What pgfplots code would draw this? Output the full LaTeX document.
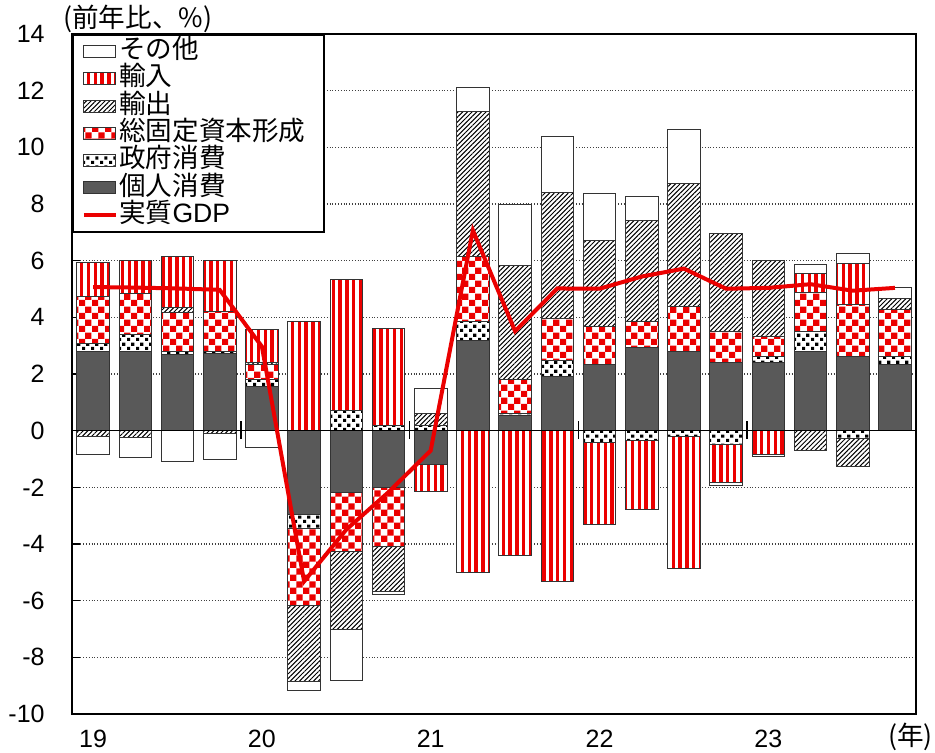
\documentclass[border=0pt]{standalone}
\usepackage{fontspec}
\setmainfont{Liberation Sans}
\newfontfamily\cjk{Noto Sans CJK JP}
\newfontfamily\lib{Liberation Sans}
\usepackage{pgfplots}
\usepackage{pgfplotstable}
\pgfplotsset{compat=1.18}
\usetikzlibrary{patterns,patterns.meta}
\definecolor{myred}{RGB}{235,0,0}
\definecolor{mygray}{RGB}{89,89,89}
\pgfdeclarepatternformonly{bigchecker}{\pgfqpoint{0pt}{0pt}}{\pgfqpoint{6.6pt}{6.6pt}}{\pgfqpoint{6.6pt}{6.6pt}}{%
  \pgfpathrectangle{\pgfqpoint{0pt}{0pt}}{\pgfqpoint{3.3pt}{3.3pt}}%
  \pgfpathrectangle{\pgfqpoint{3.3pt}{3.3pt}}{\pgfqpoint{3.3pt}{3.3pt}}%
  \pgfusepath{fill}}
\pgfdeclarepatternformonly{sqdots}{\pgfqpoint{0pt}{0pt}}{\pgfqpoint{4.6pt}{4.6pt}}{\pgfqpoint{4.6pt}{4.6pt}}{%
  \pgfpathrectangle{\pgfqpoint{0pt}{0pt}}{\pgfqpoint{1.7pt}{1.7pt}}%
  \pgfpathrectangle{\pgfqpoint{2.3pt}{2.3pt}}{\pgfqpoint{1.7pt}{1.7pt}}%
  \pgfusepath{fill}}
\pgfplotsset{
  pgray/.style={fill=mygray, draw=black!80, line width=0.5pt},
  pdots/.style={preaction={fill=white}, pattern=sqdots, pattern color=black, draw=black!80, line width=0.5pt},
  pcheck/.style={preaction={fill=white}, pattern=bigchecker, pattern color=myred, draw=black!80, line width=0.5pt},
  phatch/.style={preaction={fill=white}, pattern={Lines[angle=45,distance=1.65pt,line width=0.5pt]}, pattern color=black, draw=black!80, line width=0.5pt},
  pstripe/.style={preaction={fill=white}, pattern={Lines[angle=90,distance=3.4pt,line width=1.7pt]}, pattern color=myred, draw=black!80, line width=0.5pt},
  pother/.style={fill=white, draw=black!80, line width=0.5pt},
  linelegend/.style={legend image code/.code={\draw[##1] (0pt,0pt) -- (16pt,0pt);}},
  boxlegend/.style={legend image code/.code={\draw[##1] (0pt,-3pt) rectangle (16pt,3pt);}},
  base/.style={width=422pt, height=340pt, scale only axis, at={(0pt,0pt)}, anchor=south west,
    xmin=-0.5, xmax=19.5, ymin=-10, ymax=14, axis line style={line width=1pt}},
}
% positive parts: x, personal cons., gov cons., GFCF, exports, imports, other
\pgfplotstableread{
x g d c h s o
0 2.78 0.28 1.66 0 1.21 0
1 2.78 0.61 1.45 0 1.18 0
2 2.70 0.08 1.39 0.17 1.81 0
3 2.71 0.07 1.41 0 1.80 0
4 1.56 0.24 0.54 0.08 1.16 0
5 0 0 0 0 3.87 0
6 0 0.72 0 0 4.62 0
7 0 0.20 0 0 3.42 0
8 0 0.19 0 0.41 0 0.90
9 3.19 0.65 2.29 5.14 0 0.83
10 0.55 0.05 1.20 4.04 0 2.15
11 1.92 0.55 1.48 4.45 0 1.99
12 2.35 0 1.34 3.01 0 1.66
13 2.93 0 0.94 3.55 0 0.86
14 2.81 0 1.59 4.32 0 1.90
15 2.39 0 1.11 3.45 0 0
16 2.42 0.20 0.69 2.68 0 0
17 2.78 0.73 1.38 0 0.64 0.34
18 2.62 0 1.83 0 1.44 0.35
19 2.34 0.28 1.65 0.41 0 0.36
}\pos
% negative parts
\pgfplotstableread{
x g d c h s o
0 0 0 0 -0.20 0 -0.65
1 0 0 0 -0.24 0 -0.71
2 0 0 0 0 0 -1.10
3 0 0 0 -0.10 0 -0.91
4 0 0 0 0 0 -0.58
5 -2.97 -0.49 -2.72 -2.68 0 -0.32
6 -2.17 0 -2.11 -2.73 0 -1.80
7 -1.99 0 -2.09 -1.58 0 -0.12
8 -1.20 0 0 0 -0.95 0
9 0 0 0 0 -5.01 0
10 0 0 0 0 -4.42 0
11 0 0 0 0 -5.34 0
12 0 -0.40 0 0 -2.92 0
13 0 -0.34 0 0 -2.45 0
14 0 -0.19 0 0 -4.68 0
15 0 -0.49 0 0 -1.35 -0.08
16 0 0 0 0 -0.84 -0.08
17 0 0 0 -0.69 0 0
18 0 -0.28 0 -1.00 0 0
19 0 0 0 0 0 0
}\neg
\pgfplotstableread{
x gdp
0 5.07
1 5.05
2 5.02
3 4.97
4 2.97
5 -5.32
6 -3.49
7 -2.17
8 -0.70
9 7.07
10 3.51
11 5.02
12 5.01
13 5.44
14 5.72
15 5.01
16 5.04
17 5.17
18 4.94
19 5.04
}\gdp
\begin{document}
\begin{tikzpicture}
\path[use as bounding box] (-36pt,-19pt) rectangle (431.5pt,357pt);
% axis A: grid, tick labels, negative stacks
\begin{axis}[base, ybar stacked, bar width=16.3pt,
  ymajorgrids, grid style={densely dotted, black!75, line width=0.6pt},
  ytick={-10,-8,...,14}, yticklabels={-10,-8,-6,-4,-2,0,2,4,6,8,10,12,14},
  ytick pos=left, tick align=inside, major tick length=4pt,
  ytick style={line width=0.6pt, black},
  xtick={0,4,8,12,16}, xticklabels={19,20,21,22,23},
  xtick style={draw=none},
  ticklabel style={font=\fontsize{12.5}{14}\selectfont},
  yticklabel style={anchor=east, inner sep=0pt, xshift=-13.5pt},
  xticklabel style={anchor=north, inner sep=0pt, yshift=-8pt},
]
\addplot[pgray] table[x=x,y=g]{\neg};
\addplot[pdots] table[x=x,y=d]{\neg};
\addplot[pcheck] table[x=x,y=c]{\neg};
\addplot[phatch] table[x=x,y=h]{\neg};
\addplot[pstripe] table[x=x,y=s]{\neg};
\addplot[pother] table[x=x,y=o]{\neg};
\end{axis}
% axis B: positive stacks
\begin{axis}[base, ybar stacked, bar width=16.3pt, hide axis]
\addplot[pgray] table[x=x,y=g]{\pos};
\addplot[pdots] table[x=x,y=d]{\pos};
\addplot[pcheck] table[x=x,y=c]{\pos};
\addplot[phatch] table[x=x,y=h]{\pos};
\addplot[pstripe] table[x=x,y=s]{\pos};
\addplot[pother] table[x=x,y=o]{\pos};
\end{axis}
% axis C: line, legend, frame
\begin{axis}[base, xtick=\empty, ytick=\empty, clip=false,
  legend style={at={(0,1)}, anchor=north west, draw=black, line width=0.8pt, fill=white,
    font=\cjk\fontsize{13.3}{14}\selectfont, inner xsep=4.5pt, inner ysep=1.5pt, row sep=0pt,
    nodes={inner sep=0.75pt, text height=9.6pt, text depth=2.55pt}},
  legend cell align=left,
]
\addlegendimage{boxlegend, pother}
\addlegendimage{boxlegend, pstripe}
\addlegendimage{boxlegend, phatch}
\addlegendimage{boxlegend, pcheck}
\addlegendimage{boxlegend, pdots}
\addlegendimage{boxlegend, pgray}
\addlegendimage{linelegend, myred, line width=2pt}
\draw[black, line width=0.8pt] (axis cs:-0.5,0) -- (axis cs:19.5,0);
\draw[black, line width=0.8pt] (axis cs:3.5,-0.3) -- (axis cs:3.5,0.33);
\draw[black, line width=0.8pt] (axis cs:7.5,-0.3) -- (axis cs:7.5,0.33);
\draw[black, line width=0.8pt] (axis cs:11.5,-0.3) -- (axis cs:11.5,0.33);
\draw[black, line width=0.8pt] (axis cs:15.5,-0.3) -- (axis cs:15.5,0.33);
\addplot[myred, line width=2pt, mark=none, forget plot] table[x=x,y=gdp]{\gdp};
\legend{その他,輸入,輸出,総固定資本形成\hspace*{4pt},政府消費,個人消費,実質{\lib GDP}}
\node[anchor=west, inner sep=0pt, font=\cjk\fontsize{13.3}{14}\selectfont] at (rel axis cs:0,1) [xshift=-4.5pt, yshift=7.5pt] {(前年比、\%)};
\node[anchor=base east, inner sep=0pt, font=\cjk\fontsize{13.3}{14}\selectfont] at (rel axis cs:1,0) [xshift=8.5pt, yshift=-15.5pt] {(年)};
\end{axis}
\end{tikzpicture}
\end{document}
